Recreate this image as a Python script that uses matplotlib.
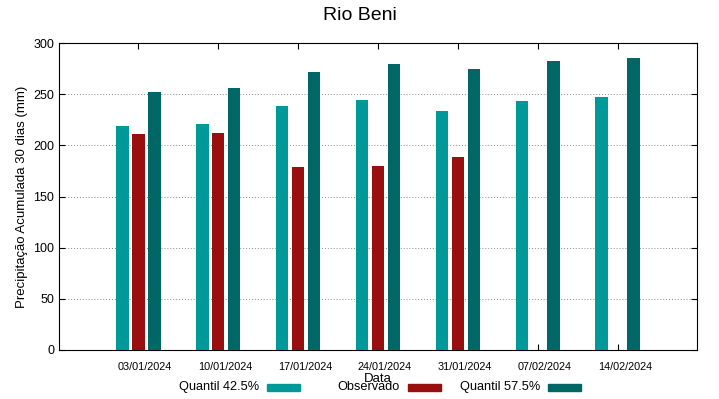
import matplotlib

matplotlib.use("Agg")
import matplotlib.pyplot as plt
import matplotlib.patches as mpatches
import numpy as np

plt.rcParams["font.family"] = ["Liberation Sans", "DejaVu Sans"]

datas = ["03/01/2024", "10/01/2024", "17/01/2024", "24/01/2024",
         "31/01/2024", "07/02/2024", "14/02/2024"]
q425 = [219, 221, 238, 244.5, 233.5, 243, 247]
observado = [211, 212, 179, 180, 189, np.nan, np.nan]
q575 = [252, 256, 272, 279.5, 274.5, 282.5, 285]

series = [("Quantil 42.5%", q425, "#009999"),
          ("Observado", observado, "#990f0f"),
          ("Quantil 57.5%", q575, "#006666")]

W, H = 719, 399
fig = plt.figure(figsize=(W / 100, H / 100), dpi=100)
ax = fig.add_axes([59 / W, 1 - 350 / H, 638 / W, 307 / H])

x = np.arange(len(datas))
w = 0.16
for i, (name, vals, col) in enumerate(series):
    ax.bar(x + (i - 1) * 0.2, vals, w, color=col, label=name, zorder=3)

ax.set_xlim(-0.99, 6.99)
ax.set_ylim(0, 300)
ax.set_yticks(range(0, 301, 50))
# tick marks at group centres, labels drawn a few pixels to the right (gnuplot look)
ax.set_xticks(x)
ax.set_xticklabels([])
ax.set_xticks(x + 0.0875, minor=True)
ax.set_xticklabels(datas, minor=True, fontsize=7.8)
ax.tick_params(axis="x", which="minor", length=0, pad=9)
ax.tick_params(axis="y", labelsize=9, direction="in", right=True, length=4)
ax.tick_params(axis="x", which="major", direction="in", top=True, length=4)
ax.yaxis.grid(True, linestyle=(0, (1, 2)), color="#888888", lw=0.7, zorder=0)

ax.set_ylabel("Precipitação Acumulada 30 dias (mm)", fontsize=9.5)
ax.set_xlabel("Data", fontsize=9.5, labelpad=0.5)
fig.text(0.5, 1 - 15 / H, "Rio Beni", ha="center", va="center", fontsize=14)

# gnuplot-style key: right-aligned text followed by a sample box
key_y = 387
for i, (name, vals, col) in enumerate(series):
    sx = 267 + i * 140.5
    fig.text((sx - 8) / W, 1 - key_y / H, name, ha="right", va="center",
             fontsize=9.2)
    fig.patches.append(mpatches.Rectangle((sx / W, 1 - (key_y + 3.5) / H),
                                          33 / W, 7 / H, color=col,
                                          transform=fig.transFigure))

fig.savefig("out.png", dpi=100)
